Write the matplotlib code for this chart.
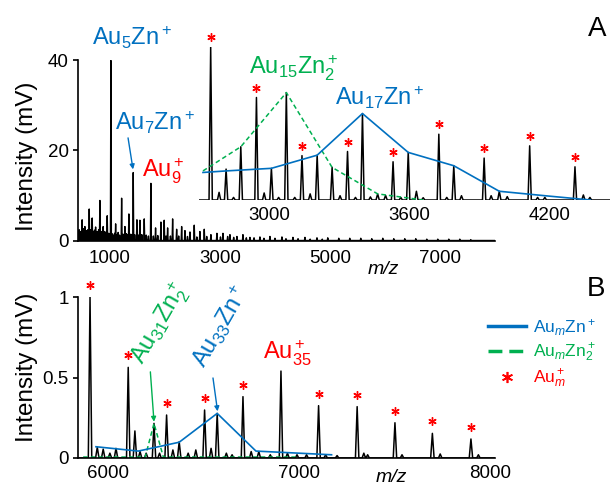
import matplotlib
matplotlib.use('Agg')
import matplotlib.pyplot as plt
from matplotlib.lines import Line2D
import numpy as np

plt.rcParams['font.family'] = ['Liberation Sans', 'DejaVu Sans']
plt.rcParams['mathtext.fontset'] = 'custom'
plt.rcParams['mathtext.rm'] = 'Liberation Sans'
plt.rcParams['mathtext.it'] = 'Liberation Sans:italic'
plt.rcParams['mathtext.bf'] = 'Liberation Sans:bold'

BLUE = '#0070C0'
GREEN = '#00B050'
RED = '#FF0000'

# ---------------- Panel A: full spectrum ----------------
a_mz = [430, 440, 455, 465, 480, 495, 505, 520, 532, 545, 558, 570, 585, 600, 612, 624, 636, 650, 664,
        678, 690, 705, 720, 740, 752, 765, 780, 795, 808, 818, 830, 845, 860, 878, 890, 905, 920, 935,
        951, 965, 980, 995, 1018, 1040, 1065, 1085, 1104, 1130, 1150, 1175, 1213, 1240, 1273, 1300,
        1320, 1345, 1380, 1400, 1424, 1450, 1491, 1520, 1545, 1580, 1624, 1660, 1700, 1745, 1790,
        1830, 1870, 1927, 1987, 2020, 2049, 2100, 2140, 2213, 2250, 2304, 2364, 2410, 2455, 2533,
        2580, 2636, 2715, 2760, 2836, 2945, 3010, 3055, 3140, 3182, 3250, 3309, 3418, 3480, 3545,
        3620, 3727, 3800, 3909, 4000, 4127, 4200, 4327, 4420, 4545, 4640, 4764, 4860, 4960, 5160,
        5360, 5560, 5760, 5960, 6160, 6360, 6560, 6760, 6960, 7160, 7360, 7560]
a_int = [1.6, 2.4, 1.2, 2.0, 1.4, 4.6, 1.8, 2.6, 1.3, 3.1, 1.7, 2.2, 1.4, 2.4, 1.6, 7.0, 1.8, 2.4, 1.5,
         5.0, 2.0, 1.5, 2.3, 3.0, 1.4, 2.0, 1.5, 2.4, 1.6, 8.9, 1.8, 2.0, 1.4, 3.1, 1.5, 2.0, 1.3, 1.8,
         5.5, 1.4, 1.6, 1.2, 40.0, 1.5, 1.2, 1.6, 3.7, 1.3, 1.8, 1.2, 9.4, 1.4, 3.1, 1.5,
         1.3, 5.9, 1.4, 1.2, 15.1, 1.3, 4.6, 1.2, 4.5, 1.3, 4.8, 1.2, 1.0, 12.7, 1.0,
         2.8, 1.1, 4.1, 4.5, 1.0, 2.8, 1.0, 4.8, 2.5, 1.0, 3.1, 2.2, 0.9, 1.9, 3.4,
         0.8, 2.0, 2.5, 0.9, 1.3, 1.6, 0.8, 1.6, 0.9, 1.3, 0.7, 0.9, 1.3, 0.6, 0.7,
         0.6, 0.8, 0.5, 0.9, 0.5, 0.8, 0.4, 0.7, 0.4, 0.7, 0.3, 0.6, 0.3, 0.6, 0.5,
         0.5, 0.5, 0.4, 0.5, 0.4, 0.4, 0.4, 0.3, 0.3, 0.3, 0.3, 0.2]
a_xticks = [1000, 3000, 5000, 7000]
a_yticks = [0, 20, 40]

# ---------------- Panel A inset (relative intensity) ----------------
in_au_mz = [2750, 2946, 3141, 3336, 3531, 3727, 3921, 4116, 4310]
in_au_int = [1.0, 0.67, 0.29, 0.317, 0.25, 0.43, 0.274, 0.354, 0.217]
in_zn_mz = [2816, 3010, 3206, 3400, 3596, 3791, 3986, 4181]
in_zn_int = [0.202, 0.207, 0.293, 0.565, 0.311, 0.224, 0.057, 0.017]
in_zn2_mz = [2879, 3074, 3270, 3465, 3660]
in_zn2_int = [0.348, 0.702, 0.213, 0.04, 0.015]
in_other_mz = [2786, 2848, 2979, 3041, 3110, 3176, 3304, 3370, 3434, 3499, 3564, 3631, 3761, 3824,
               3951, 4020, 4150, 4346, 4374]
in_other_int = [0.05, 0.017, 0.046, 0.017, 0.017, 0.04, 0.028, 0.017, 0.02, 0.03, 0.017, 0.057,
                0.017, 0.028, 0.028, 0.022, 0.017, 0.033, 0.017]
in_blue_mz = [2717, 2816, 3010, 3206, 3400, 3596, 3791, 3986, 4181, 4376]
in_blue_int = [0.18, 0.19, 0.207, 0.293, 0.565, 0.311, 0.224, 0.057, 0.028, 0.0]
in_green_mz = [2717, 2879, 3074, 3270, 3465, 3660]
in_green_int = [0.19, 0.348, 0.702, 0.213, 0.04, 0.0]
in_xticks = [3000, 3600, 4200]

# ---------------- Panel B ----------------
b_au_mz = [5906, 6106, 6307, 6506, 6707, 7103, 7305, 7503, 7699, 7901]
b_au_int = [1.0, 0.563, 0.267, 0.298, 0.381, 0.325, 0.319, 0.219, 0.153, 0.118]
b_au35_mz = [6906]
b_au35_int = [0.54]
b_other_mz = [5944, 5975, 6010, 6042, 6141, 6168, 6200, 6241, 6270, 6340, 6373, 6420, 6460, 6540,
              6572, 6620, 6650, 6750, 6790, 6850, 6940, 6990, 7040, 7140, 7200, 7340, 7360, 7540,
              7740, 7940]
b_other_int = [0.066, 0.055, 0.03, 0.06, 0.168, 0.04, 0.03, 0.215, 0.03, 0.05, 0.101, 0.03, 0.05,
               0.06, 0.277, 0.03, 0.02, 0.04, 0.04, 0.02, 0.03, 0.02, 0.02, 0.02, 0.015, 0.03, 0.02,
               0.02, 0.025, 0.02]
b_blue_mz = [5937, 6159, 6373, 6572, 6775, 7171]
b_blue_int = [0.07, 0.043, 0.098, 0.277, 0.043, 0.02]
b_green_mz = [5870, 6195, 6241, 6290, 7000]
b_green_int = [0.006, 0.006, 0.215, 0.006, 0.006]
b_xticks = [6000, 7000, 8000]
b_yticks = [0, 0.5, 1]
b_yticklabels = ['0', '0.5', '1']


def profile(mz, h, hw, lo, hi):
    mz = np.asarray(mz, float)
    h = np.asarray(h, float)
    order = np.argsort(mz)
    xs = [lo]
    ys = [0.0]
    for i in order:
        xs += [mz[i] - hw, mz[i], mz[i] + hw]
        ys += [0.0, h[i], 0.0]
    xs.append(hi)
    ys.append(0.0)
    return xs, ys


fig = plt.figure(figsize=(6.11, 4.88), dpi=100)
W, H = 611.0, 488.0

TICK = 13.5
LBL = 17

# ----- main top axes -----
ax = fig.add_axes([78 / W, 1 - 240.5 / H, 417 / W, 180 / H])
xs, ys = profile(a_mz, a_int, 9, 420, 8000)
ax.plot(xs, ys, color='black', lw=1.0)
ax.set_xlim(420, 8000)
ax.set_ylim(0, 40)
ax.set_xticks(a_xticks)
ax.set_yticks(a_yticks)
for s in ['top', 'right']:
    ax.spines[s].set_visible(False)
for s in ['left', 'bottom']:
    ax.spines[s].set_linewidth(1.2)
ax.tick_params(axis='y', length=3.5, width=1.2, labelsize=TICK, pad=3)
ax.tick_params(axis='x', length=0, labelsize=TICK, pad=7)
ax.patch.set_alpha(0)

ax.text(673, 43.4, 'Au$_5$Zn$^+$', color=BLUE, fontsize=LBL, ha='left', va='baseline')
ax.text(1091, 24.6, 'Au$_7$Zn$^+$', color=BLUE, fontsize=LBL, ha='left', va='baseline')
ax.annotate('', xy=(1420, 15.8), xytext=(1330, 22.8),
            arrowprops=dict(arrowstyle='-|>', color=BLUE, lw=1.0, mutation_scale=7,
                            shrinkA=0, shrinkB=0))
ax.text(1582, 14.1, 'Au$_9^+$', color=RED, fontsize=LBL, ha='left', va='baseline')

# ----- inset -----
axin = fig.add_axes([199 / W, 1 - 200 / H, 411 / W, 153 / H])
all_mz = in_au_mz + in_zn_mz + in_zn2_mz + in_other_mz
all_int = in_au_int + in_zn_int + in_zn2_int + in_other_int
xs, ys = profile(all_mz, all_int, 7, 2700, 4460)
axin.plot(xs, ys, color='black', lw=1.1)
axin.plot(in_green_mz, in_green_int, color=GREEN, lw=1.1, ls=(0, (3, 2)))
axin.plot(in_blue_mz, in_blue_int, color=BLUE, lw=1.2)
axin.plot(in_au_mz, np.asarray(in_au_int) + 0.065, ls='none', marker=(6, 2, 0), ms=6, mew=1.0,
          color=RED, clip_on=False)
axin.set_xlim(2700, 4460)
axin.set_ylim(0, 1.0)
axin.set_xticks(in_xticks)
axin.set_yticks([])
for s in axin.spines.values():
    s.set_visible(False)
axin.tick_params(axis='x', length=0, labelsize=TICK, pad=5)
axin.patch.set_alpha(0)
axin.text(2914, 0.817, 'Au$_{15}$Zn$_2^+$', color=GREEN, fontsize=LBL, ha='left', va='baseline')
axin.text(3283, 0.62, 'Au$_{17}$Zn$^+$', color=BLUE, fontsize=LBL, ha='left', va='baseline')

# ----- bottom axes -----
axb = fig.add_axes([78 / W, 1 - 458 / H, 417 / W, 161 / H])
all_b_mz = b_au_mz + b_au35_mz + b_other_mz
all_b_int = b_au_int + b_au35_int + b_other_int
xs, ys = profile(all_b_mz, all_b_int, 9, 5843, 8027)
axb.plot(xs, ys, color='black', lw=1.1)
axb.plot(b_green_mz, b_green_int, color=GREEN, lw=1.1, ls=(0, (3, 2)))
axb.plot(b_blue_mz, b_blue_int, color=BLUE, lw=1.2)
axb.plot(b_au_mz, np.asarray(b_au_int) + 0.075, ls='none', marker=(6, 2, 0), ms=6, mew=1.0,
         color=RED, clip_on=False)
axb.set_xlim(5843, 8027)
axb.set_ylim(0, 1)
axb.set_xticks(b_xticks)
axb.set_yticks(b_yticks)
axb.set_yticklabels(b_yticklabels)
for s in ['top', 'right']:
    axb.spines[s].set_visible(False)
for s in ['left', 'bottom']:
    axb.spines[s].set_linewidth(1.2)
axb.tick_params(axis='y', length=3.5, width=1.2, labelsize=TICK, pad=3)
axb.tick_params(axis='x', length=0, labelsize=TICK, pad=5)
axb.patch.set_alpha(0)

axb.text(6812, 0.609, 'Au$_{35}^+$', color=RED, fontsize=LBL, ha='left', va='baseline')
axb.text(6185, 0.575, 'Au$_{31}$Zn$_2^+$', color=GREEN, fontsize=LBL, ha='left', va='baseline',
         rotation=60, rotation_mode='anchor')
axb.text(6510, 0.55, 'Au$_{33}$Zn$^+$', color=BLUE, fontsize=LBL, ha='left', va='baseline',
         rotation=60, rotation_mode='anchor')
axb.annotate('', xy=(6241, 0.225), xytext=(6222, 0.535),
             arrowprops=dict(arrowstyle='-|>', color=GREEN, lw=1.0, mutation_scale=7,
                             shrinkA=0, shrinkB=0))
axb.annotate('', xy=(6574, 0.29), xytext=(6550, 0.497),
             arrowprops=dict(arrowstyle='-|>', color=BLUE, lw=1.0, mutation_scale=7,
                             shrinkA=0, shrinkB=0))

# ----- axis labels & panel letters -----
fig.text(27 / W, 1 - 156 / H, 'Intensity (mV)', rotation=90, ha='center', va='center', fontsize=17.5)
fig.text(27 / W, 1 - 367 / H, 'Intensity (mV)', rotation=90, ha='center', va='center', fontsize=17.5)
fig.text(383 / W, 1 - 269 / H, 'm/z', style='italic', ha='center', va='center', fontsize=14)
fig.text(391 / W, 1 - 478 / H, 'm/z', style='italic', ha='center', va='center', fontsize=14)
fig.text(597 / W, 1 - 29 / H, 'A', ha='center', va='center', fontsize=20)
fig.text(596 / W, 1 - 289 / H, 'B', ha='center', va='center', fontsize=20)

# ----- legend -----
handles = [Line2D([], [], color=BLUE, lw=2.5),
           Line2D([], [], color=GREEN, lw=2.5, ls=(0, (4, 2))),
           Line2D([], [], color=RED, marker=(6, 2, 0), ls='none', ms=8, mew=1.2)]
labels = ['Au$_m$Zn$^+$', 'Au$_m$Zn$_2^+$', 'Au$_m^+$']
fig.legend(handles, labels, loc='upper left', bbox_to_anchor=(488 / W, 1 - 317 / H),
           frameon=False, fontsize=12.5, labelcolor='linecolor', handlelength=2.2,
           handletextpad=0.4, labelspacing=0.22, borderaxespad=0, borderpad=0)

fig.savefig('out.png', dpi=100)
